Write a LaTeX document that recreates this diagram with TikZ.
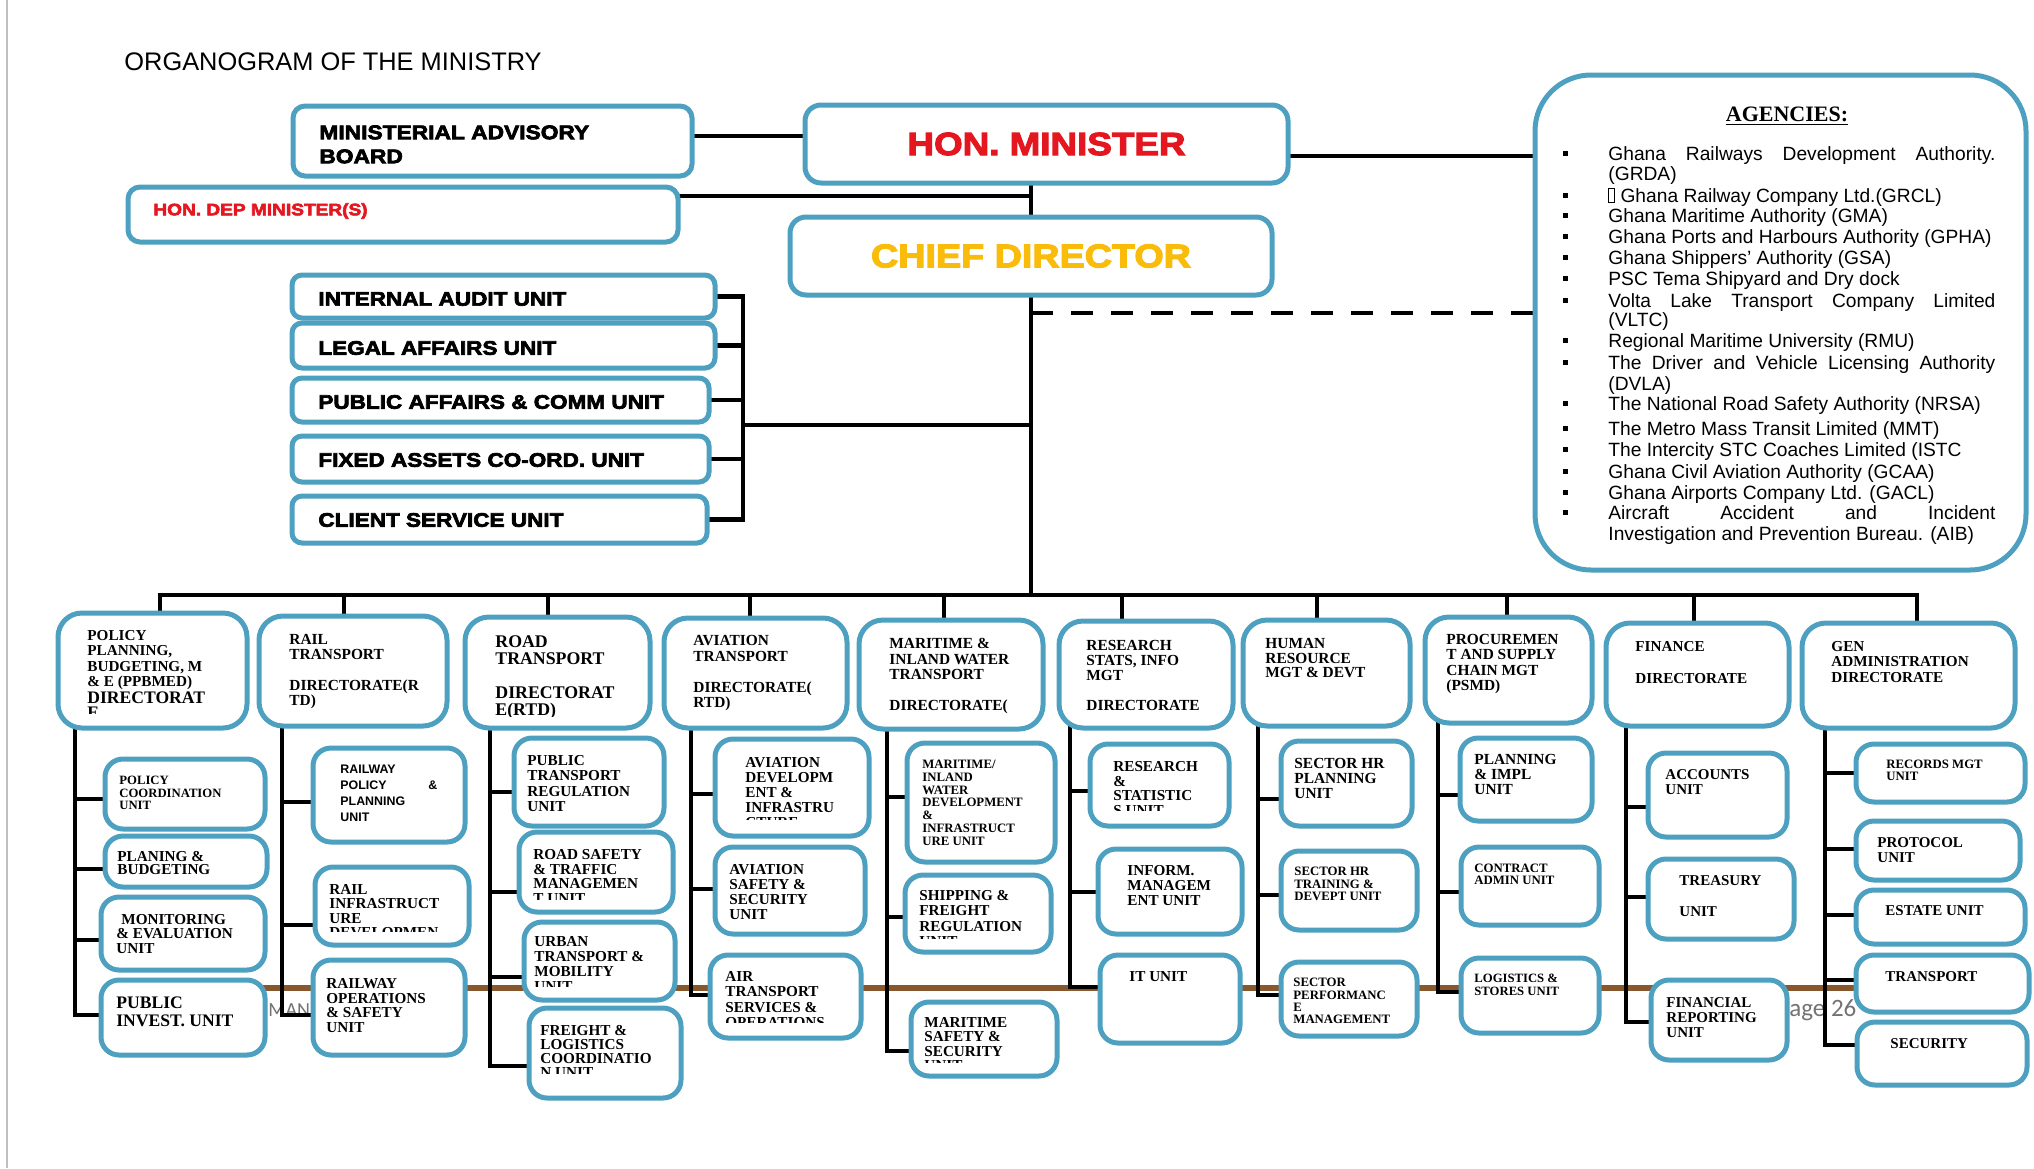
\documentclass[tikz,border=0pt]{standalone}
\usepackage{fontspec}
\setmainfont{Liberation Serif}
\newfontfamily\arfont{Liberation Sans}
\newfontfamily\blkfont[FakeStretch=1.15,BoldFeatures={FakeBold=3.5}]{Liberation Sans}
\newfontfamily\calfont{Carlito}
\pgfdeclarelayer{bg}
\pgfsetlayers{bg,main}
\definecolor{boxc}{RGB}{78,160,192}
\definecolor{hred}{RGB}{228,22,32}
\definecolor{hgold}{RGB}{250,188,10}
\definecolor{brn}{RGB}{135,88,45}
\setlength{\lineskiplimit}{-100pt}
\tikzset{
  ubox/.style={draw=boxc, line width=2.5pt, fill=white, inner sep=0pt, outer sep=0pt},
  conn/.style={line width=2.1pt, black, line cap=rect},
  dashc/.style={line width=2.1pt, black, dash pattern=on 11pt off 9pt},
  utxt/.style={anchor=north west, inner sep=0pt, align=left, text=black},
  stf/.style={anchor=west, inner sep=0pt, font=\blkfont\bfseries\fontsize{9.8}{12}\selectfont},
  agl/.style={anchor=base west, inner sep=0pt, font=\arfont\fontsize{9.6}{11}\selectfont},
}
\newcommand{\ubox}[6]{\node[ubox, rounded corners=#6, minimum width={(#4-#2)*0.5pt}, minimum height={(#5-#3)*0.5pt}] (#1) at ({(#2+#4)/2},{(#3+#5)/2}) {};}
\newcommand{\ut}[6]{\node[utxt, font=\fontsize{#4}{#5}\selectfont\bfseries] (#1) at (#2,#3) {#6};}
\newcommand{\tick}[3]{\coordinate (tk#3) at (#1,#2); \draw[conn] (tk#3) -- (tk#3 -| #3.west);}
\newcommand{\bul}[1]{\fill (1562.5,#1-2.5) rectangle (1567.5,#1+2.5);}
\newcommand{\nobox}{{\fboxsep=0pt\fboxrule=0.4pt\fbox{\rule{0pt}{6.8pt}\hspace{2.6pt}}}}
\begin{document}
\begin{tikzpicture}[x=0.5pt,y=-0.5pt]
\useasboundingbox (0,0) rectangle (2034,1168);

% ---------- top boxes ----------
\ubox{adv}{293}{106}{692}{176}{6pt}
\ubox{dep}{128}{187}{678}{242}{6pt}
\ubox{aud}{292}{275}{715}{318}{5pt}
\ubox{leg}{292}{323}{715}{368}{5pt}
\ubox{pub}{292}{378}{709}{422}{5pt}
\ubox{fix}{292}{436}{709}{482}{5pt}
\ubox{cli}{292}{496}{707}{543}{5pt}
\node[ubox, rounded corners=8pt, minimum width=241.5pt, minimum height=39pt, text=hred,
  font=\blkfont\bfseries\fontsize{16}{18}\selectfont] (min) at (1046.5,144) {HON. MINISTER};
\node[ubox, rounded corners=8pt, minimum width=241pt, minimum height=39pt, text=hgold,
  font=\blkfont\bfseries\fontsize{16.4}{18}\selectfont] (chief) at (1031,256) {CHIEF DIRECTOR};
\ubox{agc}{1535}{75}{2026}{570}{28pt}

\node[anchor=west, inner sep=0pt, font=\arfont\fontsize{12.7}{15}\selectfont] (ttl) at (124,62) {ORGANOGRAM OF THE MINISTRY};
\node[utxt, font=\blkfont\bfseries\fontsize{9.9}{12}\selectfont] (advt) at (319,125) {MINISTERIAL ADVISORY\\BOARD};
\node[anchor=west, inner sep=0pt, text=hred, font=\blkfont\bfseries\fontsize{8.3}{10}\selectfont] (dept) at (153,211) {HON. DEP MINISTER(S)};
\node[stf] (audt) at (318,299) {INTERNAL AUDIT UNIT};
\node[stf] (legt) at (318,348) {LEGAL AFFAIRS UNIT};
\node[stf] (pubt) at (318,402) {PUBLIC AFFAIRS \& COMM UNIT};
\node[stf] (fixt) at (318,460) {FIXED ASSETS CO-ORD. UNIT};
\node[stf] (clit) at (318,520) {CLIENT SERVICE UNIT};

% ---------- agencies ----------
\node[inner sep=0pt, font=\fontsize{11}{13}\selectfont\bfseries] (aghd) at (1787,116) {\underline{AGENCIES:}};
\bul{153}\bul{195}\bul{215}\bul{236}\bul{257}\bul{278}\bul{300}\bul{340}\bul{362}\bul{403}\bul{428}\bul{449}\bul{471}\bul{492}\bul{512}
\node[agl] (ag1) at (1608,160) {\makebox[193.5pt][s]{Ghana Railways Development Authority.}};
\node[agl] (ag2) at (1608,180) {(GRDA)};
\node[agl] (ag3) at (1608,202) {\nobox\ Ghana Railway Company Ltd.(GRCL)};
\node[agl] (ag4) at (1608,222) {Ghana Maritime Authority (GMA)};
\node[agl] (ag5) at (1608,243) {Ghana Ports and Harbours Authority (GPHA)};
\node[agl] (ag6) at (1608,264) {Ghana Shippers’ Authority (GSA)};
\node[agl] (ag7) at (1608,285) {PSC Tema Shipyard and Dry dock};
\node[agl] (ag8) at (1608,307) {\makebox[193.5pt][s]{Volta Lake Transport Company Limited}};
\node[agl] (ag9) at (1608,326) {(VLTC)};
\node[agl] (ag10) at (1608,347) {Regional Maritime University (RMU)};
\node[agl] (ag11) at (1608,369) {\makebox[193.5pt][s]{The Driver and Vehicle Licensing Authority}};
\node[agl] (ag12) at (1608,390) {(DVLA)};
\node[agl] (ag13) at (1608,410) {The National Road Safety Authority (NRSA)};
\node[agl] (ag14) at (1608,435) {The Metro Mass Transit Limited (MMT)};
\node[agl] (ag15) at (1608,456) {The Intercity STC Coaches Limited (ISTC};
\node[agl] (ag16) at (1608,478) {Ghana Civil Aviation Authority (GCAA)};
\node[agl] (ag17) at (1608,499) {Ghana Airports Company Ltd. (GACL)};
\node[agl] (ag18) at (1608,519) {\makebox[193.5pt][s]{Aircraft Accident and Incident}};
\node[agl] (ag19) at (1608,540) {Investigation and Prevention Bureau. (AIB)};

% ---------- directorates ----------
\ubox{d1}{58}{613}{247}{728}{12pt}
\ubox{d2}{259}{616}{447}{726}{12pt}
\ubox{d3}{465}{617}{650}{728}{12pt}
\ubox{d4}{664}{618}{847}{728}{12pt}
\ubox{d5}{859}{620}{1043}{729}{12pt}
\ubox{d6}{1059}{621}{1233}{728}{12pt}
\ubox{d7}{1243}{620}{1410}{726}{12pt}
\ubox{d8}{1425}{617}{1592}{723}{12pt}
\ubox{d9}{1606}{623}{1789}{726}{12pt}
\ubox{d10}{1802}{623}{2015}{728}{12pt}

% ---------- sub units ----------
\ubox{s1a}{105}{759}{265}{829}{9pt}
\ubox{s1b}{105}{836}{267}{887}{9pt}
\ubox{s1c}{101}{897}{265}{970}{9pt}
\ubox{s1d}{101}{980}{265}{1055}{9pt}
\ubox{s2a}{313}{748}{465}{842}{9pt}
\ubox{s2b}{315}{867}{469}{945}{9pt}
\ubox{s2c}{313}{960}{465}{1055}{9pt}
\ubox{s3a}{514}{738}{664}{826}{9pt}
\ubox{s3b}{519}{832}{673}{912}{9pt}
\ubox{s3c}{524}{922}{675}{1000}{9pt}
\ubox{s3d}{529}{1008}{681}{1098}{9pt}
\ubox{s4a}{715}{739}{869}{836}{9pt}
\ubox{s4b}{715}{847}{865}{934}{9pt}
\ubox{s4c}{710}{955}{861}{1038}{9pt}
\ubox{s5a}{907}{743}{1055}{862}{9pt}
\ubox{s5b}{905}{875}{1051}{952}{9pt}
\ubox{s5c}{911}{1002}{1057}{1076}{9pt}
\ubox{s6a}{1090}{744}{1229}{826}{9pt}
\ubox{s6b}{1098}{849}{1242}{934}{9pt}
\ubox{s6c}{1100}{955}{1240}{1043}{9pt}
\ubox{s7a}{1281}{741}{1412}{826}{9pt}
\ubox{s7b}{1281}{851}{1417}{930}{9pt}
\ubox{s7c}{1281}{962}{1417}{1036}{9pt}
\ubox{s8a}{1460}{738}{1592}{821}{9pt}
\ubox{s8b}{1461}{847}{1599}{925}{9pt}
\ubox{s8c}{1461}{958}{1599}{1033}{9pt}
\ubox{s9a}{1648}{753}{1787}{837}{9pt}
\ubox{s9b}{1648}{859}{1794}{939}{9pt}
\ubox{s9c}{1651}{980}{1787}{1060}{9pt}
\ubox{s10a}{1856}{744}{2025}{802}{9pt}
\ubox{s10b}{1856}{821}{2020}{880}{9pt}
\ubox{s10c}{1856}{890}{2025}{944}{9pt}
\ubox{s10d}{1856}{955}{2029}{1012}{9pt}
\ubox{s10e}{1857}{1022}{2027}{1085}{9pt}

% ---------- directorate texts ----------
\ut{d1t}{87}{630}{7.6}{7.75}{POLICY\\PLANNING,\\BUDGETING, M\\\& E (PPBMED)}
\begin{scope}\clip (60,600) rectangle (245,713);
\ut{d1u}{87}{691}{8.8}{7.6}{DIRECTORAT\\E}
\end{scope}
\ut{d2t}{289}{634}{7.7}{7.6}{RAIL\\TRANSPORT\\[7.6pt]DIRECTORATE(R\\TD)}
\begin{scope}\clip (467,600) rectangle (648,716);
\ut{d3t}{495}{635}{8.9}{8.5}{ROAD\\TRANSPORT\\[8.5pt]DIRECTORAT\\E(RTD)}
\end{scope}
\ut{d4t}{693}{635}{7.7}{7.75}{AVIATION\\TRANSPORT\\[7.75pt]DIRECTORATE(\\RTD)}
\ut{d5t}{889}{638}{7.7}{7.75}{MARITIME \&\\INLAND WATER\\TRANSPORT\\[7.75pt]DIRECTORATE(}
\ut{d6t}{1086}{640}{7.7}{7.5}{RESEARCH\\STATS, INFO\\MGT\\[7.5pt]DIRECTORATE}
\ut{d7t}{1265}{638}{7.7}{7.25}{HUMAN\\RESOURCE\\MGT \& DEVT}
\ut{d8t}{1446}{634}{7.7}{7.65}{PROCUREMEN\\T AND SUPPLY\\CHAIN MGT\\(PSMD)}
\ut{d9t}{1635}{641}{7.6}{8}{FINANCE\\[8pt]DIRECTORATE}
\ut{d10t}{1831}{641}{7.6}{7.75}{GEN\\ADMINISTRATION\\DIRECTORATE}

% ---------- sub unit texts ----------
\ut{s1at}{119}{776}{6.35}{6.25}{POLICY\\COORDINATION\\UNIT}
\ut{s1bt}{117}{851}{7.6}{6.5}{PLANING \&\\BUDGETING}
\ut{s1ct}{116}{914}{7.6}{7.25}{\hspace{2.5pt}MONITORING\\\& EVALUATION\\UNIT}
\ut{s1dt}{116}{996}{8.8}{9}{PUBLIC\\INVEST. UNIT}
\node[utxt, font=\arfont\bfseries\fontsize{6.2}{7.85}\selectfont] (s2at) at (340,765) {RAILWAY\\\makebox[48.5pt][l]{POLICY\hfill\&}\\PLANNING\\UNIT};
\begin{scope}\clip (317,860) rectangle (467,931);
\ut{s2bt}{329}{884}{7.6}{7.25}{RAIL\\INFRASTRUCT\\URE\\DEVELOPMEN}
\end{scope}
\ut{s2ct}{326}{978}{7.6}{7.35}{RAILWAY\\OPERATIONS\\\& SAFETY\\UNIT}
\ut{s3at}{527}{755}{7.6}{7.65}{PUBLIC\\TRANSPORT\\REGULATION\\UNIT}
\begin{scope}\clip (521,840) rectangle (671,899);
\ut{s3bt}{533}{849}{7.6}{7.35}{ROAD SAFETY\\\& TRAFFIC\\MANAGEMEN\\T UNIT}
\end{scope}
\begin{scope}\clip (526,930) rectangle (673,986);
\ut{s3ct}{534}{936}{7.6}{7.5}{URBAN\\TRANSPORT \&\\MOBILITY\\UNIT}
\end{scope}
\begin{scope}\clip (531,1015) rectangle (679,1073);
\ut{s3dt}{540}{1025}{7.6}{7}{FREIGHT \&\\LOGISTICS\\COORDINATIO\\N UNIT}
\end{scope}
\begin{scope}\clip (717,745) rectangle (867,819);
\ut{s4at}{745}{757}{7.6}{7.5}{AVIATION\\DEVELOPM\\ENT \&\\INFRASTRU\\CTURE}
\end{scope}
\ut{s4bt}{729}{864}{7.6}{7.5}{AVIATION\\SAFETY \&\\SECURITY\\UNIT}
\begin{scope}\clip (712,960) rectangle (859,1022);
\ut{s4ct}{725}{971}{7.6}{7.65}{AIR\\TRANSPORT\\SERVICES \&\\OPERATIONS}
\end{scope}
\ut{s5at}{922}{760}{6.4}{6.35}{MARITIME/\\INLAND\\WATER\\DEVELOPMENT\\\&\\INFRASTRUCT\\URE UNIT}
\begin{scope}\clip (907,880) rectangle (1049,938);
\ut{s5bt}{919}{890}{7.6}{7.65}{SHIPPING \&\\FREIGHT\\REGULATION\\UNIT}
\end{scope}
\begin{scope}\clip (913,1008) rectangle (1055,1062);
\ut{s5ct}{924}{1017}{7.6}{7.25}{MARITIME\\SAFETY \&\\SECURITY\\UNIT}
\end{scope}
\begin{scope}\clip (1092,750) rectangle (1227,810);
\ut{s6at}{1113}{761}{7.6}{7.35}{RESEARCH\\\&\\STATISTIC\\S UNIT}
\end{scope}
\ut{s6bt}{1127}{865}{7.6}{7.5}{INFORM.\\MANAGEM\\ENT UNIT}
\ut{s6ct}{1129}{971}{7.6}{7.5}{IT UNIT}
\ut{s7at}{1294}{758}{7.7}{7.5}{SECTOR HR\\PLANNING\\UNIT}
\ut{s7bt}{1294}{867}{6.4}{6.25}{SECTOR HR\\TRAINING \&\\DEVEPT UNIT}
\ut{s7ct}{1293}{978}{6.4}{6.15}{SECTOR\\PERFORMANC\\E\\MANAGEMENT}
\ut{s8at}{1474}{754}{7.7}{7.5}{PLANNING\\\& IMPL\\UNIT}
\ut{s8bt}{1474}{864}{6.4}{6}{CONTRACT\\ADMIN UNIT}
\ut{s8ct}{1474}{974}{6.35}{6.5}{LOGISTICS \&\\STORES UNIT}
\ut{s9at}{1665}{769}{7.5}{7.5}{ACCOUNTS\\UNIT}
\ut{s9bt}{1679}{875}{7.5}{7.75}{TREASURY\\[7.75pt]UNIT}
\ut{s9ct}{1666}{997}{7.5}{7.5}{FINANCIAL\\REPORTING\\UNIT}
\ut{s10at}{1886}{760}{6.4}{6}{RECORDS MGT\\UNIT}
\ut{s10bt}{1877}{837}{7.5}{7.5}{PROTOCOL\\UNIT}
\ut{s10ct}{1885}{905}{7.5}{7.5}{ESTATE UNIT}
\ut{s10dt}{1885}{971}{7.5}{7.5}{TRANSPORT}
\ut{s10et}{1890}{1038}{7.5}{7.5}{SECURITY}

% ---------- background layer: page, footer, connectors ----------
\begin{pgfonlayer}{bg}
\fill[white] (0,0) rectangle (2034,1168);
\draw[black!25, line width=1pt] (7,0) -- (7,1168);
\draw[brn, line width=3pt] (110,988) -- (1855,988);
\node[anchor=west, inner sep=0pt, text=black!55, font=\calfont\fontsize{10}{12}\selectfont] (man) at (268,1010) {MAN};
\node[anchor=west, inner sep=0pt, text=black!55, font=\calfont\fontsize{12.5}{14}\selectfont] (pg) at (1789,1010) {age 26};

% top connectors
\coordinate (cA) at (700,136);
\draw[conn] (adv.east |- cA) -- (min.west |- cA);
\coordinate (cD) at (1031,196);
\draw[conn] (dep.east |- cD) -- (cD);
\draw[conn] (chief.north) -- (chief.north |- min.south);
\coordinate (cM) at (1300,156);
\draw[conn] (min.east |- cM) -- (agc.west |- cM);
\coordinate (bus) at (1031,595);
\draw[conn] (chief.south) -- (bus);
\coordinate (cDash) at (1031,313);
\draw[dashc] (cDash) -- (cDash -| agc.west);
% bracket of staff units
\coordinate (brk) at (743,425);
\draw[conn] (aud.east) -- (aud.east -| brk);
\draw[conn] (leg.east) -- (leg.east -| brk);
\draw[conn] (pub.east) -- (pub.east -| brk);
\draw[conn] (fix.east) -- (fix.east -| brk);
\draw[conn] (cli.east) -- (cli.east -| brk);
\draw[conn] (aud.east -| brk) -- (cli.east -| brk);
\draw[conn] (brk) -- (brk -| bus);
% bus
\coordinate (t1) at (160,595); \coordinate (t2) at (344,595);
\coordinate (t3) at (548,595); \coordinate (t4) at (750,595);
\coordinate (t5) at (944,595); \coordinate (t6) at (1122,595);
\coordinate (t7) at (1317,595); \coordinate (t8) at (1507,595);
\coordinate (t9) at (1694,595); \coordinate (t10) at (1917,595);
\draw[conn] (t1) -- (t10);
\foreach \i in {1,...,10} {\draw[conn] (t\i) -- (t\i |- d\i.north);}
% columns
\tick{75}{799}{s1a}\tick{75}{869}{s1b}\tick{75}{940}{s1c}\tick{75}{1015}{s1d}
\draw[conn] (tks1a |- d1.south) -- (tks1d);
\tick{282}{802}{s2a}\tick{282}{925}{s2b}\tick{282}{1015}{s2c}
\draw[conn] (tks2a |- d2.south) -- (tks2c);
\tick{490}{792}{s3a}\tick{490}{892}{s3b}\tick{490}{977}{s3c}\tick{490}{1066}{s3d}
\draw[conn] (tks3a |- d3.south) -- (tks3d);
\tick{691}{794}{s4a}\tick{691}{889}{s4b}\tick{691}{995}{s4c}
\draw[conn] (tks4a |- d4.south) -- (tks4c);
\tick{887}{797}{s5a}\tick{887}{917}{s5b}\tick{887}{1051}{s5c}
\draw[conn] (tks5a |- d5.south) -- (tks5c);
\tick{1070}{791}{s6a}\tick{1070}{892}{s6b}\tick{1070}{987}{s6c}
\draw[conn] (tks6a |- d6.south) -- (tks6c);
\tick{1258}{799}{s7a}\tick{1258}{895}{s7b}\tick{1258}{995}{s7c}
\draw[conn] (tks7a |- d7.south) -- (tks7c);
\tick{1438}{795}{s8a}\tick{1438}{892}{s8b}\tick{1438}{992}{s8c}
\draw[conn] (tks8a |- d8.south) -- (tks8c);
\tick{1626}{807}{s9a}\tick{1626}{897}{s9b}\tick{1626}{1022}{s9c}
\draw[conn] (tks9a |- d9.south) -- (tks9c);
\tick{1825}{773}{s10a}\tick{1825}{849}{s10b}\tick{1825}{915}{s10c}\tick{1825}{980}{s10d}\tick{1825}{1045}{s10e}
\draw[conn] (tks10a |- d10.south) -- (tks10e);
\end{pgfonlayer}
\end{tikzpicture}
\end{document}
